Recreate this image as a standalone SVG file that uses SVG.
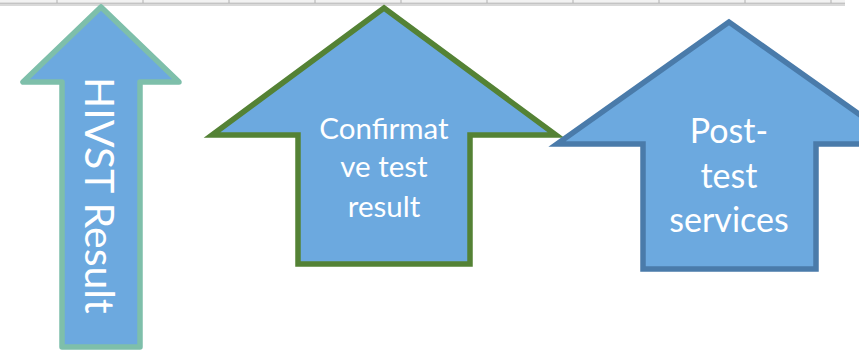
<svg xmlns="http://www.w3.org/2000/svg" width="859" height="354" viewBox="0 0 859 354">
  <style>
    .arrow { fill: #6CA9DF; stroke-width: 5.5; }
    .label { fill: #FFFFFF; font-family: Lato, "Open Sans", "Liberation Sans", sans-serif; text-anchor: middle; }
  </style>
  <rect x="0" y="0" width="859" height="354" fill="#FFFFFF"/>
  <!-- ruler strip along the top edge -->
  <g id="ruler">
    <rect x="0" y="0" width="845" height="3.5" fill="#F2F2F2"/>
    <rect x="0" y="3.5" width="845" height="2.5" fill="#D9D9D9"/>
    <line x1="0" y1="3.2" x2="845" y2="3.2" stroke="#A6A6A6" stroke-width="0.8"/>
    <g stroke="#B0B0B0" stroke-width="1">
      <line x1="57" y1="0" x2="57" y2="3"/><line x1="143" y1="0" x2="143" y2="3"/>
      <line x1="229" y1="0" x2="229" y2="3"/><line x1="315" y1="0" x2="315" y2="3"/>
      <line x1="401" y1="0" x2="401" y2="3"/><line x1="487" y1="0" x2="487" y2="3"/>
      <line x1="573" y1="0" x2="573" y2="3"/><line x1="659" y1="0" x2="659" y2="3"/>
      <line x1="745" y1="0" x2="745" y2="3"/><line x1="831" y1="0" x2="831" y2="3"/>
    </g>
  </g>

  <g id="hivst-result">
    <polygon class="arrow" stroke="#7EBFAA" stroke-linejoin="round"
             points="101,7 23,82 62,82 62,347 140,347 140,82 179,82"/>
    <text class="label" font-size="41" style="text-anchor:start" transform="translate(85,77) rotate(90)">HIVST Result</text>
  </g>

  <g id="confirmative-test-result">
    <polygon class="arrow" stroke="#548235" stroke-linejoin="miter"
             points="384,8 212,135 298,135 298,264 470,264 470,135 556,135"/>
    <text class="label" font-size="29.5" x="384" y="139">Confirmat</text>
    <text class="label" font-size="29.5" x="384" y="177">ve test</text>
    <text class="label" font-size="29.5" x="384" y="217">result</text>
  </g>

  <g id="post-test-services">
    <polygon class="arrow" stroke="#4A7BAA" stroke-linejoin="miter"
             points="729,22 557,144 643,144 643,269 816,269 816,144 901,144"/>
    <text class="label" font-size="34" x="729" y="143">Post-</text>
    <text class="label" font-size="34" x="729" y="188">test</text>
    <text class="label" font-size="34" x="729" y="232">services</text>
  </g>
</svg>
